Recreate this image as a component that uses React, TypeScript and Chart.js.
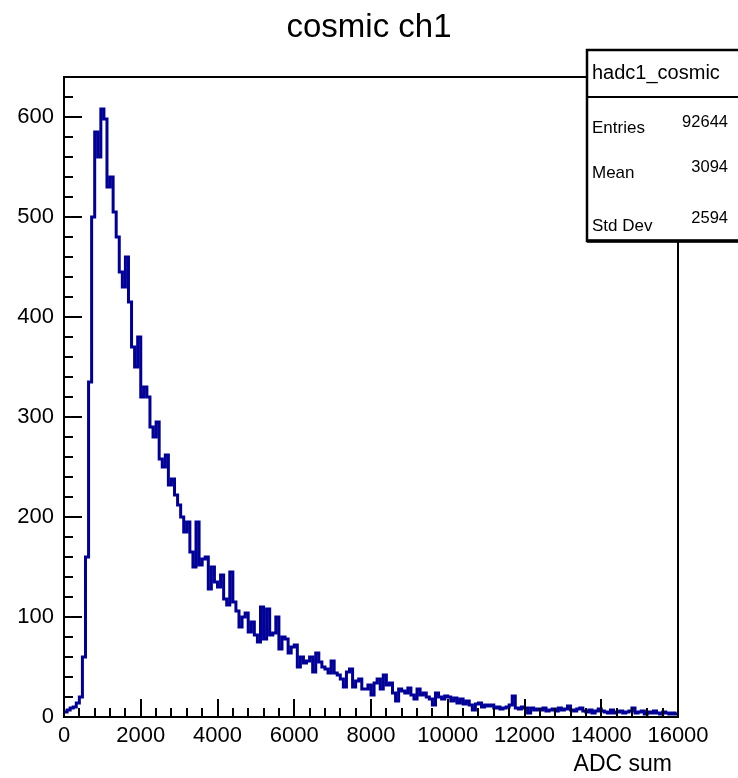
import React, { useEffect, useRef } from "react";
import { Chart, registerables } from "chart.js";

Chart.register(...registerables);

const TITLE = "cosmic ch1";
const X_TITLE = "ADC sum";
const HIST_NAME = "hadc1_cosmic";
const STAT_LABELS = ["Entries", "Mean", "Std Dev"];
const STAT_VALUES = ["92644", "3094", "2594"];

const X_MIN = 0;
const X_MAX = 16000;
const BIN_WIDTH = 80;
const Y_MIN = 0;
const Y_MAX = 640;

const X_TICKS = [0, 2000, 4000, 6000, 8000, 10000, 12000, 14000, 16000];
const Y_TICKS = [0, 100, 200, 300, 400, 500, 600];
const X_MINOR_STEP = 400;
const Y_MINOR_STEP = 20;

// counts per 80-wide bin
const COUNTS = [
  5, 7, 9, 10, 14, 20, 60, 160, 335, 500,
  585, 560, 608, 598, 530, 540, 505, 480, 445, 430,
  460, 415, 370, 350, 380, 320, 330, 320, 290, 280,
  295, 258, 250, 262, 232, 238, 222, 212, 200, 185,
  195, 165, 150, 195, 152, 158, 160, 128, 150, 135,
  130, 142, 118, 112, 145, 115, 106, 90, 100, 104,
  85, 95, 82, 75, 110, 78, 108, 82, 84, 100,
  68, 80, 78, 64, 70, 72, 50, 60, 54, 56,
  60, 45, 64, 55, 50, 48, 44, 56, 44, 42,
  38, 30, 45, 48, 30, 36, 38, 28, 28, 32,
  22, 34, 38, 28, 42, 32, 34, 24, 16, 28,
  26, 24, 29, 22, 18, 28, 22, 24, 20, 18,
  12, 24, 20, 18, 21, 20, 16, 19, 14, 18,
  13, 16, 12, 7, 13, 14, 10, 12, 11, 12,
  9, 10, 8, 9, 10, 12, 21, 9, 8, 10,
  9, 4, 9, 7, 8, 7, 9, 6, 7, 8,
  6, 9, 7, 8, 11, 7, 6, 8, 9, 6,
  5, 7, 4, 6, 8, 6, 5, 4, 7, 4,
  5, 6, 4, 5, 6, 9, 4, 5, 6, 3,
  5, 4, 6, 4, 3, 5, 4, 3, 4, 3,
];

const FONT = "'Liberation Sans', Arial, Helvetica, sans-serif";
const LINE_COLOR = "#000099";

const rootStylePlugin = {
  id: "rootStyle",
  afterDraw(chart: any) {
    const ctx = chart.ctx as CanvasRenderingContext2D;
    const area = chart.chartArea;
    const xs = chart.scales.x;
    const ys = chart.scales.y;
    ctx.save();

    // frame
    ctx.strokeStyle = "#000";
    ctx.lineWidth = 2;
    ctx.strokeRect(area.left, area.top, area.right - area.left, area.bottom - area.top);

    // y ticks (inward)
    ctx.beginPath();
    for (let v = Y_MIN; v <= Y_MAX + 0.001; v += Y_MINOR_STEP) {
      const py = Math.round(ys.getPixelForValue(v));
      const major = Y_TICKS.includes(v);
      ctx.moveTo(area.left, py);
      ctx.lineTo(area.left + (major ? 18 : 9), py);
    }
    // x ticks (inward)
    for (let v = X_MIN; v <= X_MAX + 0.001; v += X_MINOR_STEP) {
      const px = Math.round(xs.getPixelForValue(v));
      const major = X_TICKS.includes(v);
      ctx.moveTo(px, area.bottom);
      ctx.lineTo(px, area.bottom - (major ? 18 : 9));
    }
    ctx.stroke();

    // title
    ctx.fillStyle = "#000";
    ctx.font = `33px ${FONT}`;
    ctx.textAlign = "center";
    ctx.textBaseline = "alphabetic";
    ctx.fillText(TITLE, chart.width / 2, 37);

    // x axis title
    ctx.font = `23px ${FONT}`;
    ctx.textAlign = "right";
    ctx.fillText(X_TITLE, 672, 771);

    // stats box
    const bx = 587, by = 50, bw = 160, bh = 191;
    ctx.fillStyle = "#fff";
    ctx.fillRect(bx, by, bw, bh);
    ctx.strokeStyle = "#000";
    ctx.lineWidth = 2.5;
    ctx.strokeRect(bx, by, bw, bh);
    ctx.lineWidth = 3.5;
    ctx.beginPath();
    ctx.moveTo(bx, by + bh);
    ctx.lineTo(bx + bw, by + bh);
    ctx.stroke();
    ctx.lineWidth = 2;
    ctx.beginPath();
    ctx.moveTo(bx, 97);
    ctx.lineTo(bx + bw, 97);
    ctx.stroke();

    ctx.fillStyle = "#000";
    ctx.textAlign = "left";
    ctx.font = `20px ${FONT}`;
    ctx.fillText(HIST_NAME, 592, 79);
    const labelBase = [133, 178, 231];
    const valueBase = [127, 172, 223];
    for (let i = 0; i < STAT_LABELS.length; i++) {
      ctx.textAlign = "left";
      ctx.font = `17px ${FONT}`;
      ctx.fillText(STAT_LABELS[i], 592, labelBase[i]);
      ctx.textAlign = "right";
      ctx.font = `16.5px ${FONT}`;
      ctx.fillText(STAT_VALUES[i], 728, valueBase[i]);
    }
    ctx.restore();
  },
};

export default function App() {
  const ref = useRef<HTMLCanvasElement | null>(null);

  useEffect(() => {
    if (!ref.current) return;
    const points = COUNTS.map((c, i) => ({ x: X_MIN + i * BIN_WIDTH, y: c }));
    points.push({ x: X_MAX, y: COUNTS[COUNTS.length - 1] });

    const chart = new Chart(ref.current, {
      type: "line",
      data: {
        datasets: [
          {
            label: HIST_NAME,
            data: points,
            borderColor: LINE_COLOR,
            borderWidth: 3,
            pointRadius: 0,
            fill: false,
            stepped: "before",
            tension: 0,
          },
        ],
      },
      options: {
        animation: false,
        responsive: false,
        devicePixelRatio: 1,
        layout: { padding: { top: 77, right: 60, left: 0, bottom: 0 } },
        plugins: {
          legend: { display: false },
          tooltip: { enabled: false },
          title: { display: false },
        },
        scales: {
          x: {
            type: "linear",
            min: X_MIN,
            max: X_MAX,
            grid: { display: false, drawTicks: false },
            border: { display: false },
            afterFit: (s: any) => {
              s.height = 61;
            },
            afterBuildTicks: (s: any) => {
              s.ticks = X_TICKS.map((v) => ({ value: v }));
            },
            ticks: {
              color: "#000",
              font: { family: FONT, size: 22 },
              padding: 6,
              maxRotation: 0,
              autoSkip: false,
              callback: (v: any) => String(v),
            },
          },
          y: {
            type: "linear",
            min: Y_MIN,
            max: Y_MAX,
            grid: { display: false, drawTicks: false },
            border: { display: false },
            afterFit: (s: any) => {
              s.width = 64;
            },
            afterBuildTicks: (s: any) => {
              s.ticks = Y_TICKS.map((v) => ({ value: v }));
            },
            ticks: {
              color: "#000",
              font: { family: FONT, size: 22 },
              padding: 10,
              autoSkip: false,
              callback: (v: any) => String(v),
            },
          },
        },
      },
      plugins: [rootStylePlugin],
    });
    return () => chart.destroy();
  }, []);

  return (
    <div style={{ position: "absolute", left: 0, top: 0, width: 738, height: 778, background: "#fff" }}>
      <canvas ref={ref} width={738} height={778} style={{ display: "block", width: 738, height: 778 }} />
    </div>
  );
}
